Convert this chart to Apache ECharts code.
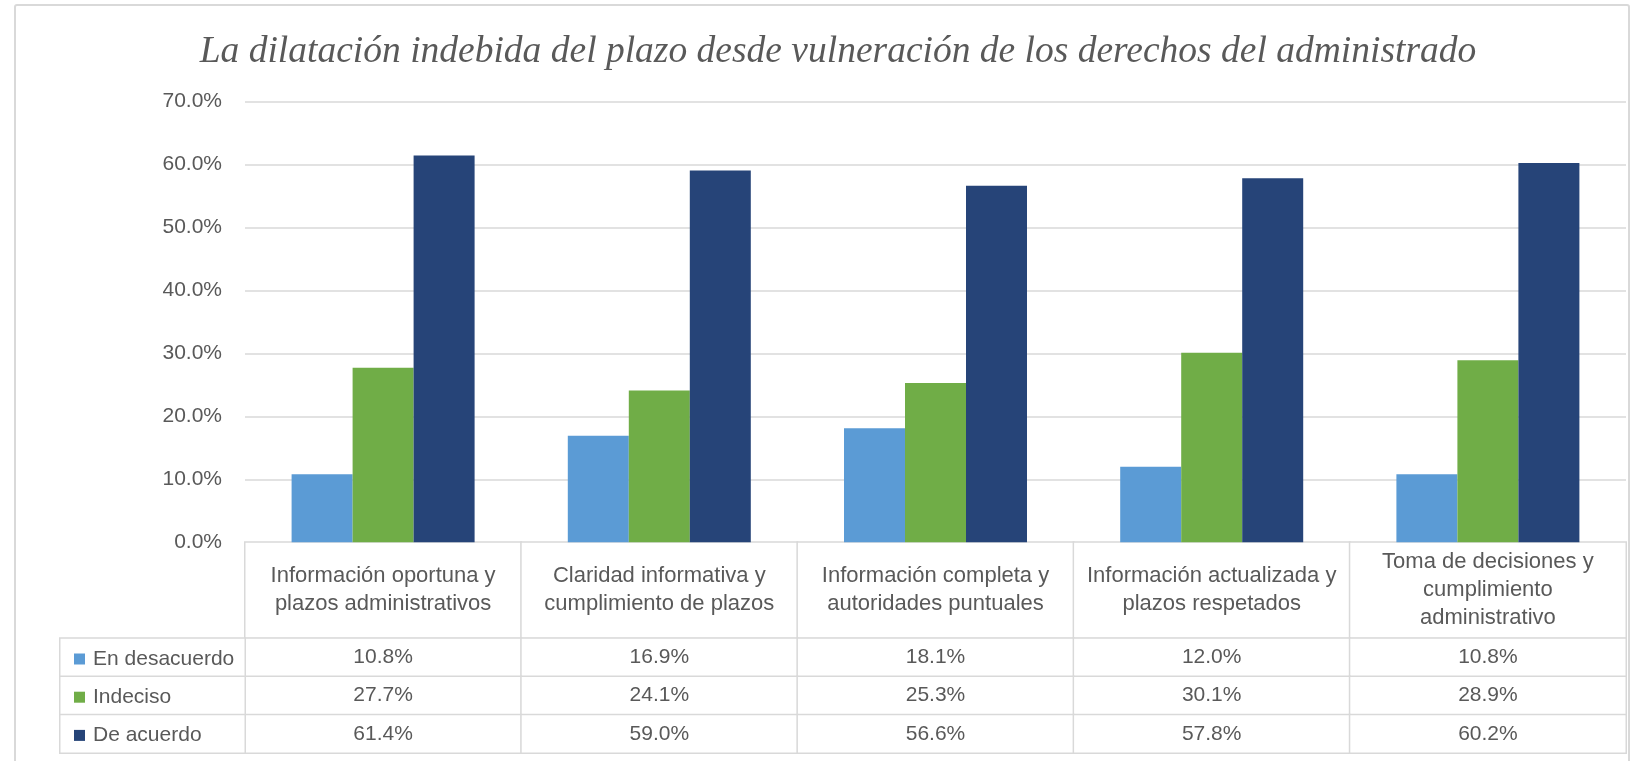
<!DOCTYPE html>
<html>
<head>
<meta charset="utf-8">
<script src="https://cdn.jsdelivr.net/npm/echarts@6/dist/echarts.min.js"></script>
<style>
html,body{margin:0;padding:0;background:#fff;}
#chart{width:1634px;height:761px;}
</style>
</head>
<body>
<div id="chart"></div>
<script>
const title = 'La dilatación indebida del plazo desde vulneración de los derechos del administrado';
const categories = [
  'Información oportuna y\nplazos administrativos',
  'Claridad informativa y\ncumplimiento de plazos',
  'Información completa y\nautoridades puntuales',
  'Información actualizada y\nplazos respetados',
  'Toma de decisiones y\ncumplimiento\nadministrativo'
];
const seriesNames = ['En desacuerdo', 'Indeciso', 'De acuerdo'];
const enDesacuerdo = [10.8, 16.9, 18.1, 12.0, 10.8];
const indeciso = [27.7, 24.1, 25.3, 30.1, 28.9];
const deAcuerdo = [61.4, 59.0, 56.6, 57.8, 60.2];
const yTicks = [0, 10, 20, 30, 40, 50, 60, 70];
const colors = ['#5b9bd5', '#70ad47', '#264478'];

const values = [enDesacuerdo, indeciso, deAcuerdo];
const textColor = '#595959';
const lineColor = '#d9d9d9';
const font = 'Liberation Sans';

const chart = echarts.init(document.getElementById('chart'));

const tableData = [];
values.forEach((arr, r) => arr.forEach((v, c) => tableData.push([c, r, v])));
const headerData = categories.map((c, i) => [i, 0, i]);
const legendColData = seriesNames.map((n, i) => [0, i, i]);

const cellStyle = { color: '#ffffff', borderColor: lineColor, borderWidth: 1.5 };
const hiddenCat = (data, extra) => Object.assign({
  type: 'category', data: data,
  axisLine: { show: false }, axisTick: { show: false },
  axisLabel: { show: false }, splitLine: { show: false }
}, extra || {});

const option = {
  backgroundColor: '#ffffff',
  animation: false,
  title: {
    text: title,
    left: 833, top: 28, textAlign: 'center',
    textStyle: { fontFamily: 'Liberation Serif', fontStyle: 'italic', fontWeight: 'normal', fontSize: 37.5, color: textColor }
  },
  graphic: [{
    type: 'rect', silent: true,
    shape: { x: 15, y: 5, width: 1614, height: 780, r: 2 },
    style: { fill: 'none', stroke: lineColor, lineWidth: 2 }
  }],
  legend: {
    data: seriesNames,
    orient: 'vertical',
    left: 69, top: 642,
    icon: 'rect', itemWidth: 11, itemHeight: 11, itemGap: 14.2,
    selectedMode: false,
    textStyle: { fontFamily: font, fontSize: 21, color: textColor, lineHeight: 24, padding: [0, 0, 0, 3] }
  },
  grid: [
    { left: 245, right: 8, top: 101.3, height: 441 },
    { left: 245, right: 8, top: 542.3, height: 96 },
    { left: 245, right: 8, top: 638.3, height: 114.6 },
    { left: 60, width: 185, top: 638.3, height: 114.6 }
  ],
  xAxis: [
    { type: 'category', gridIndex: 0, data: categories,
      axisLine: { show: true, lineStyle: { color: lineColor, width: 1.5 } },
      axisTick: { show: false }, axisLabel: { show: false } },
    hiddenCat(categories, { gridIndex: 1 }),
    hiddenCat(categories, { gridIndex: 2 }),
    hiddenCat([''], { gridIndex: 3 })
  ],
  yAxis: [
    { type: 'value', gridIndex: 0, min: 0, max: 70, interval: 10,
      axisLine: { show: false }, axisTick: { show: false },
      splitLine: { lineStyle: { color: lineColor, width: 1.5 } },
      axisLabel: { margin: 23, fontFamily: font, fontSize: 21, color: textColor,
        formatter: v => v.toFixed(1) + '%' } },
    hiddenCat([''], { gridIndex: 1 }),
    hiddenCat(seriesNames, { gridIndex: 2, inverse: true }),
    hiddenCat(seriesNames, { gridIndex: 3, inverse: true })
  ],
  series: [
    ...seriesNames.map((name, i) => ({
      name: name, type: 'bar', xAxisIndex: 0, yAxisIndex: 0,
      data: values[i], barWidth: 61, barGap: '0%',
      itemStyle: { color: colors[i] },
      emphasis: { disabled: true }
    })),
    {
      type: 'heatmap', xAxisIndex: 1, yAxisIndex: 1, data: headerData,
      itemStyle: cellStyle, emphasis: { disabled: true },
      label: { show: true, fontFamily: font, fontSize: 22, lineHeight: 28, color: textColor,
        formatter: p => categories[p.value[0]] }
    },
    {
      type: 'heatmap', xAxisIndex: 2, yAxisIndex: 2, data: tableData,
      itemStyle: cellStyle, emphasis: { disabled: true },
      label: { show: true, fontFamily: font, fontSize: 21, color: textColor,
        formatter: p => p.value[2].toFixed(1) + '%' }
    },
    {
      type: 'heatmap', xAxisIndex: 3, yAxisIndex: 3, data: legendColData,
      itemStyle: cellStyle, emphasis: { disabled: true },
      label: { show: false }
    }
  ]
};
chart.setOption(option);
</script>
</body>
</html>
